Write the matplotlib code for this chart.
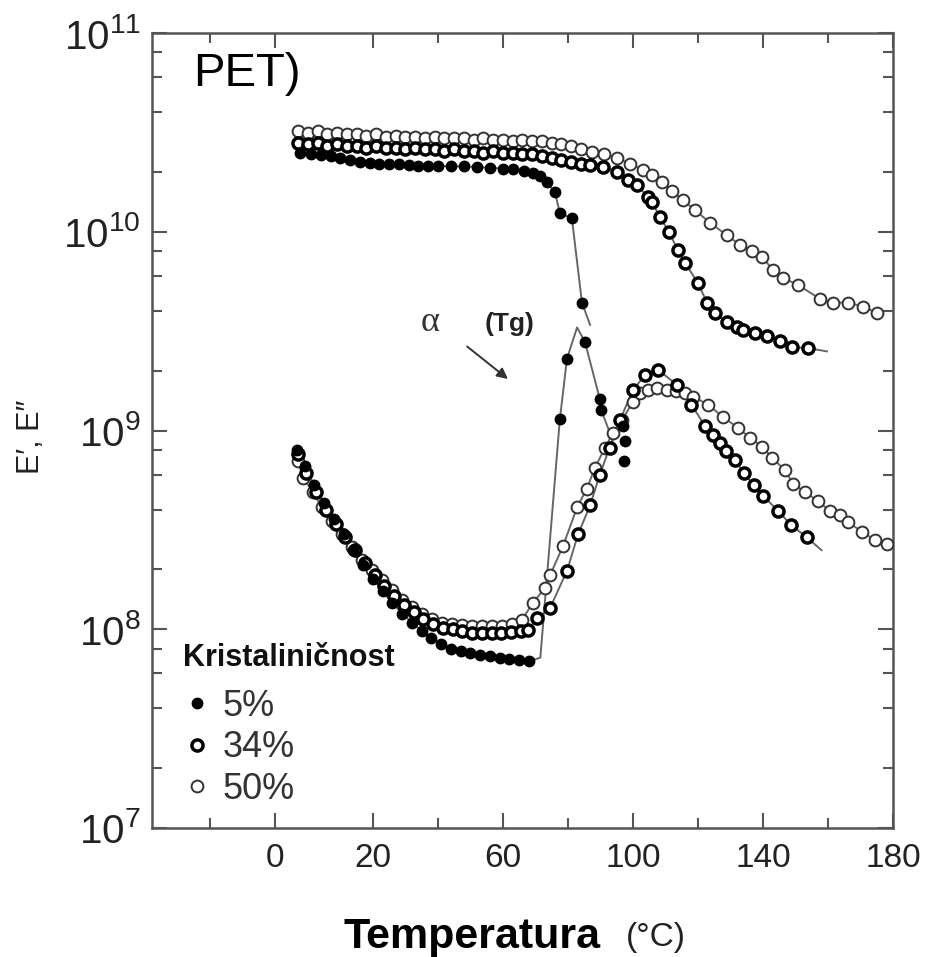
import matplotlib
matplotlib.use("Agg")
import matplotlib.pyplot as plt
from matplotlib.ticker import LogLocator, NullFormatter

plt.rcParams['font.family'] = ['Liberation Sans', 'DejaVu Sans']

# E' (storage modulus), Pa
e1_5_x = [-2.5, 1, 4, 7, 10, 13, 16, 19, 22, 25, 28, 31, 34, 37, 40, 44, 48, 52, 56, 60,
          63, 66.5, 69.2, 71.5, 73.5, 76, 77.5, 81.2, 84.3, 86.8]
e1_5_y = [2.5e10, 2.45e10, 2.42e10, 2.4e10, 2.35e10, 2.3e10, 2.25e10, 2.22e10, 2.2e10, 2.2e10,
          2.18e10, 2.16e10, 2.15e10, 2.15e10, 2.14e10, 2.14e10, 2.13e10, 2.12e10, 2.1e10, 2.08e10,
          2.07e10, 2.03e10, 1.98e10, 1.9e10, 1.78e10, 1.58e10, 1.24e10, 1.17e10, 4.4e9, 3.4e9]
e1_5_lineonly = [29]

e1_34_x = [-3, 0, 3, 6, 9, 12, 15, 18, 21, 24, 27, 30, 33, 36, 39, 42, 45, 48, 51, 54,
           57, 60, 63, 66, 69, 72, 75, 78, 81, 84,
           86.8, 90.8, 95.1, 98.5, 101.2, 104.6, 105.8, 108.3, 111, 113.8, 116, 120, 122.8,
           125.2, 128.9, 132, 133.8, 137.5, 141.2, 145.2, 148.9, 153.8, 159.7]
e1_34_y = [2.8e10, 2.75e10, 2.8e10, 2.7e10, 2.75e10, 2.7e10, 2.7e10, 2.65e10, 2.7e10, 2.65e10,
           2.65e10, 2.6e10, 2.65e10, 2.6e10, 2.6e10, 2.55e10, 2.6e10, 2.55e10, 2.55e10, 2.5e10,
           2.55e10, 2.5e10, 2.5e10, 2.45e10, 2.45e10, 2.4e10, 2.35e10, 2.3e10, 2.25e10, 2.2e10,
           2.17e10, 2.12e10, 2.0e10, 1.82e10, 1.72e10, 1.5e10, 1.41e10, 1.19e10, 1.0e10, 8.1e9,
           7.0e9, 5.5e9, 4.4e9, 3.9e9, 3.5e9, 3.3e9, 3.2e9, 3.1e9, 2.99e9, 2.82e9, 2.63e9, 2.6e9, 2.5e9]
e1_34_lineonly = [52]

e1_50_x = [-3, 0, 3, 6, 9, 12, 15, 18, 21, 24, 27, 30, 33, 36, 39, 42, 45, 48, 51, 54,
           57, 60, 63, 66, 69, 72, 75, 78, 81, 84,
           87.5, 91, 95, 99, 103, 106, 109, 112, 115.4, 119, 123.7, 128.9, 132.9, 136.5,
           139.7, 143.1, 146.2, 150.8, 157.5, 161.5, 166.2, 170.8, 175.2]
e1_50_y = [3.2e10, 3.15e10, 3.2e10, 3.1e10, 3.15e10, 3.1e10, 3.1e10, 3.05e10, 3.1e10, 3.0e10,
           3.05e10, 3.0e10, 3.0e10, 2.95e10, 3.0e10, 2.95e10, 2.95e10, 2.95e10, 2.9e10, 2.95e10,
           2.9e10, 2.9e10, 2.85e10, 2.9e10, 2.85e10, 2.85e10, 2.8e10, 2.75e10, 2.7e10, 2.62e10,
           2.52e10, 2.45e10, 2.35e10, 2.2e10, 2.05e10, 1.92e10, 1.78e10, 1.6e10, 1.44e10, 1.29e10,
           1.11e10, 9.6e9, 8.6e9, 8.0e9, 7.5e9, 6.4e9, 5.85e9, 5.4e9, 4.6e9, 4.4e9,
           4.4e9, 4.2e9, 3.9e9]
e1_50_lineonly = []

# E'' (loss modulus), Pa
e2_5_x = [-3.4, -1, 2, 5, 8, 11, 14, 17, 20, 23, 26, 29, 32, 35, 38, 41, 44, 47, 50, 53,
          56, 59, 62, 65, 68, 71.5, 77.5, 79.7, 82.8, 85.2, 89.8, 90.2, 93.8]
e2_5_y = [8.0e8, 6.6e8, 5.3e8, 4.3e8, 3.6e8, 3.0e8, 2.5e8, 2.1e8, 1.8e8, 1.55e8,
          1.35e8, 1.2e8, 1.08e8, 9.8e7, 9.0e7, 8.4e7, 8.0e7, 7.8e7, 7.6e7, 7.4e7,
          7.3e7, 7.2e7, 7.1e7, 7.0e7, 6.9e7, 7.2e7, 1.14e9, 2.3e9, 3.3e9, 2.8e9, 1.44e9, 1.27e9, 8.9e8]
e2_5_lineonly = [25, 28, 32]
e2_5_loose_x = [97.0, 97.6, 97.2]
e2_5_loose_y = [1.05e9, 8.9e8, 7.0e8]

e2_34_x = [-3, -0.5, 2.5, 5.5, 8.5, 11.5, 14.5, 17.5, 20.5, 23.5, 26.5, 29.5, 32.5, 35.5, 38.5,
           41.5, 44.5, 47.5, 50.5, 53.5, 56.5, 59.5, 62.5, 65.5, 67.8, 70.5, 74.5, 79.7, 83.1, 86.8,
           89.8, 92.8, 96.0, 100.0, 103.7, 107.7, 113.5, 118.0, 122.2, 124.6, 126.8, 128.6, 131.4,
           134.2, 137.2, 140.0, 144.6, 148.6, 153.5, 158.0]
e2_34_y = [7.6e8, 6.1e8, 4.9e8, 4.0e8, 3.4e8, 2.9e8, 2.5e8, 2.15e8, 1.88e8, 1.65e8, 1.47e8, 1.33e8,
           1.22e8, 1.13e8, 1.06e8, 1.02e8, 1.0e8, 9.8e7, 9.6e7, 9.6e7, 9.6e7, 9.6e7, 9.7e7, 9.8e7,
           9.9e7, 1.14e8, 1.28e8, 1.97e8, 3.0e8, 4.2e8, 6.0e8, 8.2e8, 1.13e9, 1.6e9, 1.9e9, 2.02e9,
           1.7e9, 1.35e9, 1.05e9, 9.5e8, 8.7e8, 7.9e8, 7.1e8, 6.1e8, 5.3e8, 4.7e8, 3.95e8, 3.35e8,
           2.9e8, 2.5e8]
e2_34_lineonly = [49]

e2_50_x = [-3.1, -1.5, 1.5, 4.3, 7.4, 10.5, 13.5, 16.6, 19.7, 22.8, 25.8, 28.9, 32.0, 35.1, 38.1,
           41.2, 44.3, 47.4, 50.5, 53.5, 56.6, 59.7, 62.8, 65.8, 69.2, 72.9, 74.5, 78.5, 82.8, 85.8,
           88.3, 91.4, 93.8, 96.6, 100.0, 102.2, 104.6, 107.4, 110.5, 113.3, 116.0, 118.5, 123.1,
           127.7, 132.3, 136.0, 139.7, 142.8, 146.8, 149.2, 153.0, 156.9, 160.6, 163.7, 166.2,
           170.5, 174.5, 178.2]
e2_50_y = [7.0e8, 5.8e8, 4.9e8, 4.1e8, 3.5e8, 3.0e8, 2.6e8, 2.23e8, 1.99e8, 1.77e8, 1.58e8, 1.40e8,
           1.30e8, 1.20e8, 1.13e8, 1.08e8, 1.06e8, 1.05e8, 1.04e8, 1.04e8, 1.04e8, 1.04e8, 1.06e8,
           1.11e8, 1.36e8, 1.61e8, 1.87e8, 2.63e8, 4.1e8, 5.1e8, 6.5e8, 8.2e8, 9.7e8, 1.13e9, 1.39e9,
           1.55e9, 1.6e9, 1.64e9, 1.6e9, 1.58e9, 1.55e9, 1.48e9, 1.35e9, 1.17e9, 1.03e9, 9.2e8,
           8.3e8, 7.3e8, 6.3e8, 5.4e8, 4.9e8, 4.4e8, 3.95e8, 3.75e8, 3.45e8, 3.1e8, 2.8e8, 2.7e8]
e2_50_lineonly = []

labels = ["5%", "34%", "50%"]
xtick_pos = [-10, 20, 60, 100, 140, 180]
xtick_lab = ["0", "20", "60", "100", "140", "180"]
xtick_minor = [-30, 40, 80, 120, 160]

styles = {
    "5%": dict(marker='o', ms=7.5, mfc='black', mec='black', mew=1.0),
    "34%": dict(marker='o', ms=8, mfc='white', mec='black', mew=2.5),
    "50%": dict(marker='o', ms=8.5, mfc='white', mec='#333333', mew=1.4),
}
line_c = '#666666'

fig = plt.figure(figsize=(9.3, 9.57), dpi=100)
ax = fig.add_axes([0.1634, 0.1348, 0.7968, 0.8307])


def draw(x, y, skip, lab, legend=False):
    ax.plot(x, y, '-', color=line_c, lw=1.4, zorder=2)
    keep = [i for i in range(len(x)) if i not in skip]
    ax.plot(x, y, linestyle='none', markevery=keep, zorder=3,
            label=lab if legend else None, **styles[lab])


draw(e2_50_x, e2_50_y, e2_50_lineonly, "50%")
draw(e2_34_x, e2_34_y, e2_34_lineonly, "34%")
draw(e2_5_x, e2_5_y, e2_5_lineonly, "5%")
ax.plot(e2_5_loose_x, e2_5_loose_y, linestyle='none', zorder=3, **styles["5%"])
draw(e1_50_x, e1_50_y, e1_50_lineonly, "50%", True)
draw(e1_34_x, e1_34_y, e1_34_lineonly, "34%", True)
draw(e1_5_x, e1_5_y, e1_5_lineonly, "5%", True)

ax.set_yscale('log')
ax.set_ylim(1e7, 1e11)
ax.set_xlim(-48, 180)
ax.yaxis.set_major_locator(LogLocator(base=10, numticks=10))
ax.yaxis.set_minor_locator(LogLocator(base=10, subs=[2, 4, 6, 8], numticks=10))
ax.yaxis.set_minor_formatter(NullFormatter())
ax.set_xticks(xtick_pos, xtick_lab)
ax.set_xticks(xtick_minor, minor=True)

ax.tick_params(which='both', direction='in', top=True, right=True, color='#555', width=1.5)
ax.tick_params(which='major', length=11)
ax.tick_params(which='minor', length=7)
ax.tick_params(axis='y', labelsize=29, pad=8, labelcolor='#222')
ax.tick_params(axis='x', labelsize=24, pad=11, labelcolor='#222')
plt.setp(ax.get_xticklabels(), fontfamily=['Liberation Sans Narrow', 'Liberation Sans'])
for sp in ax.spines.values():
    sp.set_color('#555')
    sp.set_linewidth(1.8)

ax.set_ylabel("E\u2032, E\u2033", fontsize=22, color='#222')
ax.yaxis.set_label_coords(-0.143, 0.492)

# legend
ax.text(0.042, 0.214, "Kristaliničnost", transform=ax.transAxes, fontsize=22,
        fontweight='bold', va='center', ha='left', color='#111')
handles, labs = ax.get_legend_handles_labels()
order = [labs.index(l) for l in labels]
ax.legend([handles[i] for i in order], [labs[i] for i in order], loc='upper left',
          bbox_to_anchor=(0.042, 0.175), frameon=False, fontsize=26, borderpad=0,
          borderaxespad=0, handlelength=0.75, handletextpad=0.35, labelspacing=0.18,
          numpoints=1, labelcolor='#333')

# alpha (Tg) annotation
ax.annotate('', xy=(62.2, 1.78e9), xytext=(48.3, 2.7e9),
            arrowprops=dict(arrowstyle='-|>', color='#333', lw=1.4, mutation_scale=16))
ax.text(37.5, 3.5e9, "\u03b1", fontsize=26, family=['Liberation Serif', 'DejaVu Serif'],
        ha='center', va='center', color='#333')
ax.text(62.0, 3.45e9, "(Tg)", fontsize=19, fontweight='bold', ha='center', va='center',
        color='#222', family=['Liberation Sans Narrow', 'Liberation Sans'])

fig.text(193 / 930, 1 - 86 / 957, "PET)", fontsize=34, ha='left', va='baseline')
fig.text(343 / 930, 1 - 948 / 957, "Temperatura", fontsize=31, fontweight='bold',
         ha='left', va='baseline')
fig.text(626 / 930, 1 - 946 / 957, "(°C)", fontsize=24, ha='left', va='baseline',
         color='#222', family=['Liberation Sans Narrow', 'Liberation Sans'])

fig.savefig('out.png', dpi=100)
